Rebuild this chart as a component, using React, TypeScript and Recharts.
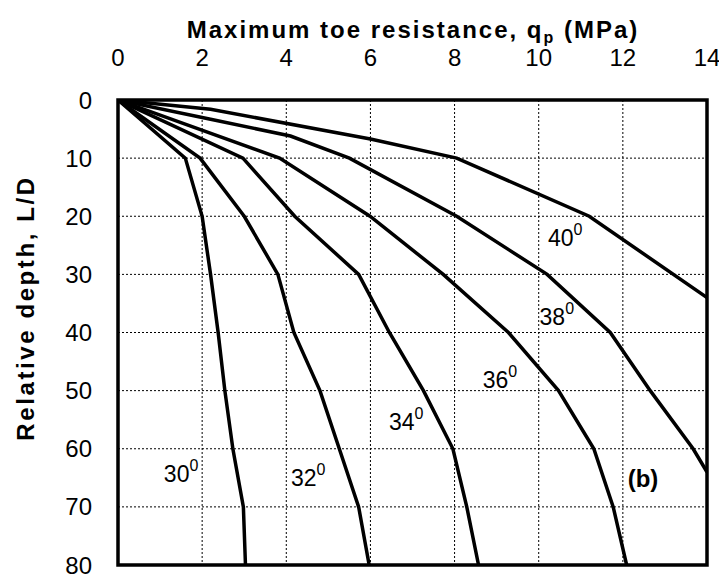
import React from "react";
import { LineChart, Line, XAxis, YAxis, CartesianGrid, ReferenceArea, ReferenceDot } from "recharts";

// friction angles, one curve each
const angles = ["30", "32", "34", "36", "38", "40"];

// depths (L/D) and toe resistance (MPa)
const depth30 = [0, 10, 20, 30, 40, 50, 60, 70, 80];
const q30 = [0, 1.6, 2.0, 2.2, 2.38, 2.54, 2.73, 2.98, 3.03];

const depth32 = [0, 10, 20, 30, 40, 50, 60, 70, 80];
const q32 = [0, 1.95, 3.0, 3.8, 4.18, 4.8, 5.26, 5.72, 5.97];

const depth34 = [0, 10, 20, 30, 40, 50, 60, 70, 80];
const q34 = [0, 2.97, 4.2, 5.72, 6.45, 7.26, 7.96, 8.29, 8.57];

const depth36 = [0, 10, 20, 30, 40, 50, 60, 70, 80];
const q36 = [0, 3.84, 5.99, 7.73, 9.28, 10.47, 11.31, 11.77, 12.09];

const depth38 = [0, 3.3, 6.2, 10, 20, 30, 40, 50, 60, 64];
const q38 = [0, 2.2, 4.1, 5.5, 8.05, 10.2, 11.7, 12.65, 13.67, 14];

const depth40 = [0, 1.6, 6.7, 10, 20, 34];
const q40 = [0, 2.2, 6, 8.05, 11.2, 14];

const xTicks = [0, 2, 4, 6, 8, 10, 12, 14];
const yTicks = [0, 10, 20, 30, 40, 50, 60, 70, 80];

// where the angle labels sit, in chart units
const labelQ = [1.5, 4.52, 6.85, 9.08, 10.43, 10.63];
const labelDepth = [64.4, 65.1, 55.4, 48.2, 37.3, 23.75];

const series = [
  { name: angles[0], q: q30, depth: depth30 },
  { name: angles[1], q: q32, depth: depth32 },
  { name: angles[2], q: q34, depth: depth34 },
  { name: angles[3], q: q36, depth: depth36 },
  { name: angles[4], q: q38, depth: depth38 },
  { name: angles[5], q: q40, depth: depth40 },
].map((s) => ({ name: s.name, data: s.q.map((q, i) => ({ q, depth: s.depth[i] })) }));

const font = "'Liberation Sans', Arial, sans-serif";

function AngleText({ cx, cy, text }: { cx?: number; cy?: number; text: string }) {
  if (cx == null || cy == null) return null;
  return (
    <text x={cx} y={cy} textAnchor="middle" dominantBaseline="central" fontFamily={font} fontSize={23} fill="#000">
      {text}
      <tspan fontSize={16} dy={-9}>0</tspan>
    </text>
  );
}

export default function App() {
  return (
    <div style={{ position: "relative", width: 719, height: 571, background: "#fff", fontFamily: font }}>
      <div
        style={{
          position: "absolute",
          left: 55,
          width: 700,
          top: 7,
          textAlign: "center",
          fontSize: 24,
          fontWeight: "bold",
          letterSpacing: 2,
          lineHeight: "30px",
        }}
      >
        Maximum toe resistance, q<sub style={{ fontSize: 16, verticalAlign: -5, letterSpacing: 2 }}>p</sub> (MPa)
      </div>
      <div
        style={{
          position: "absolute",
          left: 18,
          top: 300,
          width: 0,
          height: 0,
        }}
      >
        <div
          style={{
            position: "absolute",
            transform: "translate(-50%, -50%) rotate(-90deg)",
            whiteSpace: "nowrap",
            fontSize: 24,
            fontWeight: "bold",
            letterSpacing: 2.6,
          }}
        >
          Relative depth, L/D
        </div>
      </div>
      <LineChart width={719} height={571} margin={{ top: 52, right: 20, bottom: 14, left: 50 }}>
        <CartesianGrid stroke="#000" strokeWidth={1} strokeDasharray="2 2" />
        <XAxis
          type="number"
          dataKey="q"
          orientation="top"
          domain={[0, 14]}
          ticks={xTicks}
          height={40}
          axisLine={false}
          tickLine={false}
          tickSize={0}
          tickMargin={34}
          tick={{ fill: "#000", fontSize: 24, fontFamily: font }}
          allowDataOverflow
        />
        <YAxis
          type="number"
          dataKey="depth"
          reversed
          domain={[0, 80]}
          ticks={yTicks}
          width={60}
          axisLine={false}
          tickLine={false}
          tickSize={0}
          tickMargin={26}
          tick={{ fill: "#000", fontSize: 24, fontFamily: font }}
          allowDataOverflow
        />
        {series.map((s) => (
          <Line
            key={s.name}
            data={s.data}
            dataKey="depth"
            type="linear"
            stroke="#000"
            strokeWidth={3.5}
            dot={false}
            activeDot={false}
            isAnimationActive={false}
          />
        ))}
        <ReferenceArea x1={0} x2={14} y1={0} y2={80} fill="none" stroke="#000" strokeWidth={3.5} />
        {angles.map((a, i) => (
          <ReferenceDot
            key={a}
            x={labelQ[i]}
            y={labelDepth[i]}
            r={0}
            shape={(p: any) => <AngleText cx={p.cx} cy={p.cy} text={a} />}
          />
        ))}
        <ReferenceDot
          x={12.48}
          y={65.1}
          r={0}
          shape={(p: any) => (
            <text x={p.cx} y={p.cy} textAnchor="middle" dominantBaseline="central" fontFamily={font} fontSize={24} fontWeight="bold" fill="#000">
              (b)
            </text>
          )}
        />
      </LineChart>
    </div>
  );
}
